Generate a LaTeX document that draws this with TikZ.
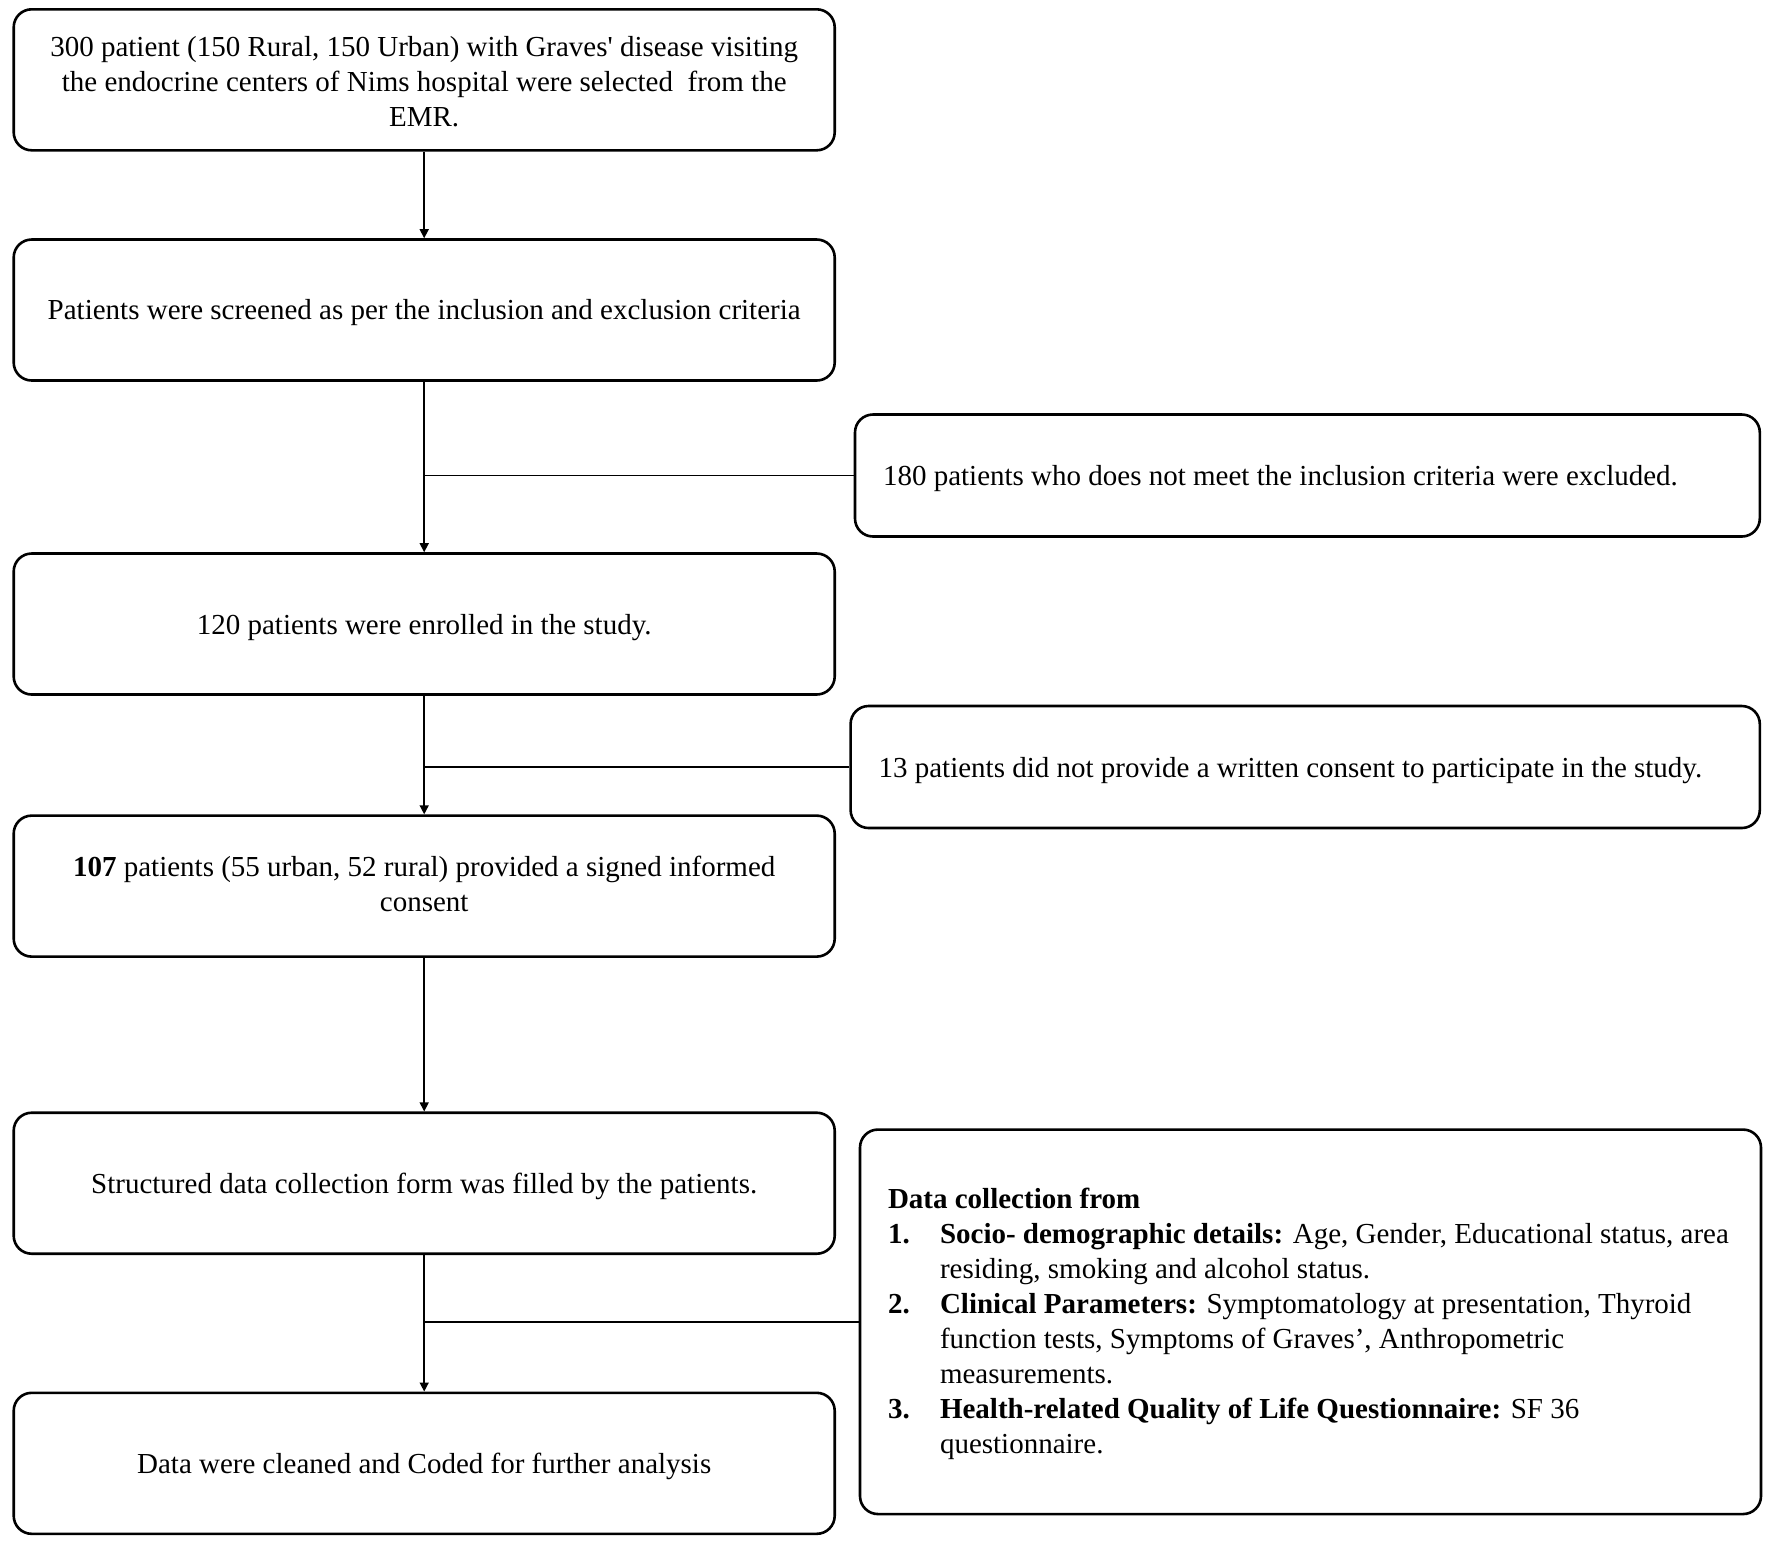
\documentclass[tikz,border=0pt]{standalone}
\usepackage{fontspec}
\setmainfont{Liberation Serif}
\usetikzlibrary{arrows.meta}
\newcommand\lowtext[2]{\raisebox{-#1}[\height][\depth]{\begin{tabular}{@{}c@{}}#2\end{tabular}}}
\newcommand\lowleft[3]{\raisebox{-#1}[\height][\depth]{\makebox[#2][l]{#3}}}
\begin{document}
\begin{tikzpicture}[x=0.5pt,y=-0.5pt,
  txt/.style={font=\fontsize{14.5}{17.5}\selectfont},
  box/.style={draw, line width=1.3pt, rounded corners=9pt, minimum width=410.5pt,
    minimum height=70.5pt, align=center, inner sep=0pt, txt},
  sidebox/.style={draw, line width=1.3pt, rounded corners=9pt, minimum height=61pt,
    inner xsep=14pt, inner ysep=0pt, txt},
  flow/.style={line width=0.75pt},
  arr/.style={flow, -{Triangle[length=4.5pt,width=4.5pt]}}]
\useasboundingbox (0,0) rectangle (1771,1544);

\node[box] (b1) at (424.2,79.8) {\lowtext{2.4pt}{300 patient (150 Rural, 150 Urban) with Graves\textquotesingle\ disease visiting\\
the endocrine centers of Nims hospital were selected \ from the\\ EMR.}};
\node[box] (b2) at (424.2,310) {\lowtext{1.25pt}{Patients were screened as per the inclusion and exclusion criteria}};
\node[box] (b3) at (424.2,624) {\lowtext{1.65pt}{120 patients were enrolled in the study.}};
\node[box] (b4) at (424.2,886.1) {\lowtext{0.5pt}{\textbf{107} patients (55 urban, 52 rural) provided a signed informed\\ consent}};
\node[box] (b5) at (424.2,1183.2) {\lowtext{1.5pt}{Structured data collection form was filled by the patients.}};
\node[box] (b6) at (424.2,1463.3) {\lowtext{1.6pt}{Data were cleaned and Coded for further analysis}};

\node[sidebox, minimum width=452.4pt] (A) at (1307.4,475.5)
  {\lowleft{1.6pt}{424.4pt}{180 patients who does not meet the inclusion criteria were excluded.}};
\node[sidebox, minimum width=454.6pt] (B) at (1305.2,767)
  {\lowleft{1.6pt}{426.6pt}{13 patients did not provide a written consent to participate in the study.}};
\node[sidebox, minimum width=450.5pt, minimum height=192.25pt] (C) at (1310.5,1321.8)
  {\lowleft{1pt}{422.5pt}{\begin{tabular}{@{}p{26pt}@{}l@{}}
  \multicolumn{2}{@{}l@{}}{\textbf{Data collection from}}\\
  \textbf{1.} & \textbf{Socio- demographic details:} Age, Gender, Educational status, area\\
   & residing, smoking and alcohol status.\\
  \textbf{2.} & \textbf{Clinical Parameters:} Symptomatology at presentation, Thyroid\\
   & function tests, Symptoms of Graves’, Anthropometric\\
   & measurements.\\
  \textbf{3.} & \textbf{Health-related Quality of Life Questionnaire:} SF 36\\
   & questionnaire.
  \end{tabular}}};

\draw[arr] (b1) -- (b2);
\draw[arr] (b2) -- (b3);
\draw[flow] (A.west) -- (A.west -| b2.south);
\draw[arr] (b3) -- (b4);
\draw[flow] (B.west) -- (B.west -| b3.south);
\draw[arr] (b4) -- (b5);
\draw[arr] (b5) -- (b6);
\draw[flow] (C.west) -- (C.west -| b5.south);
\end{tikzpicture}
\end{document}
